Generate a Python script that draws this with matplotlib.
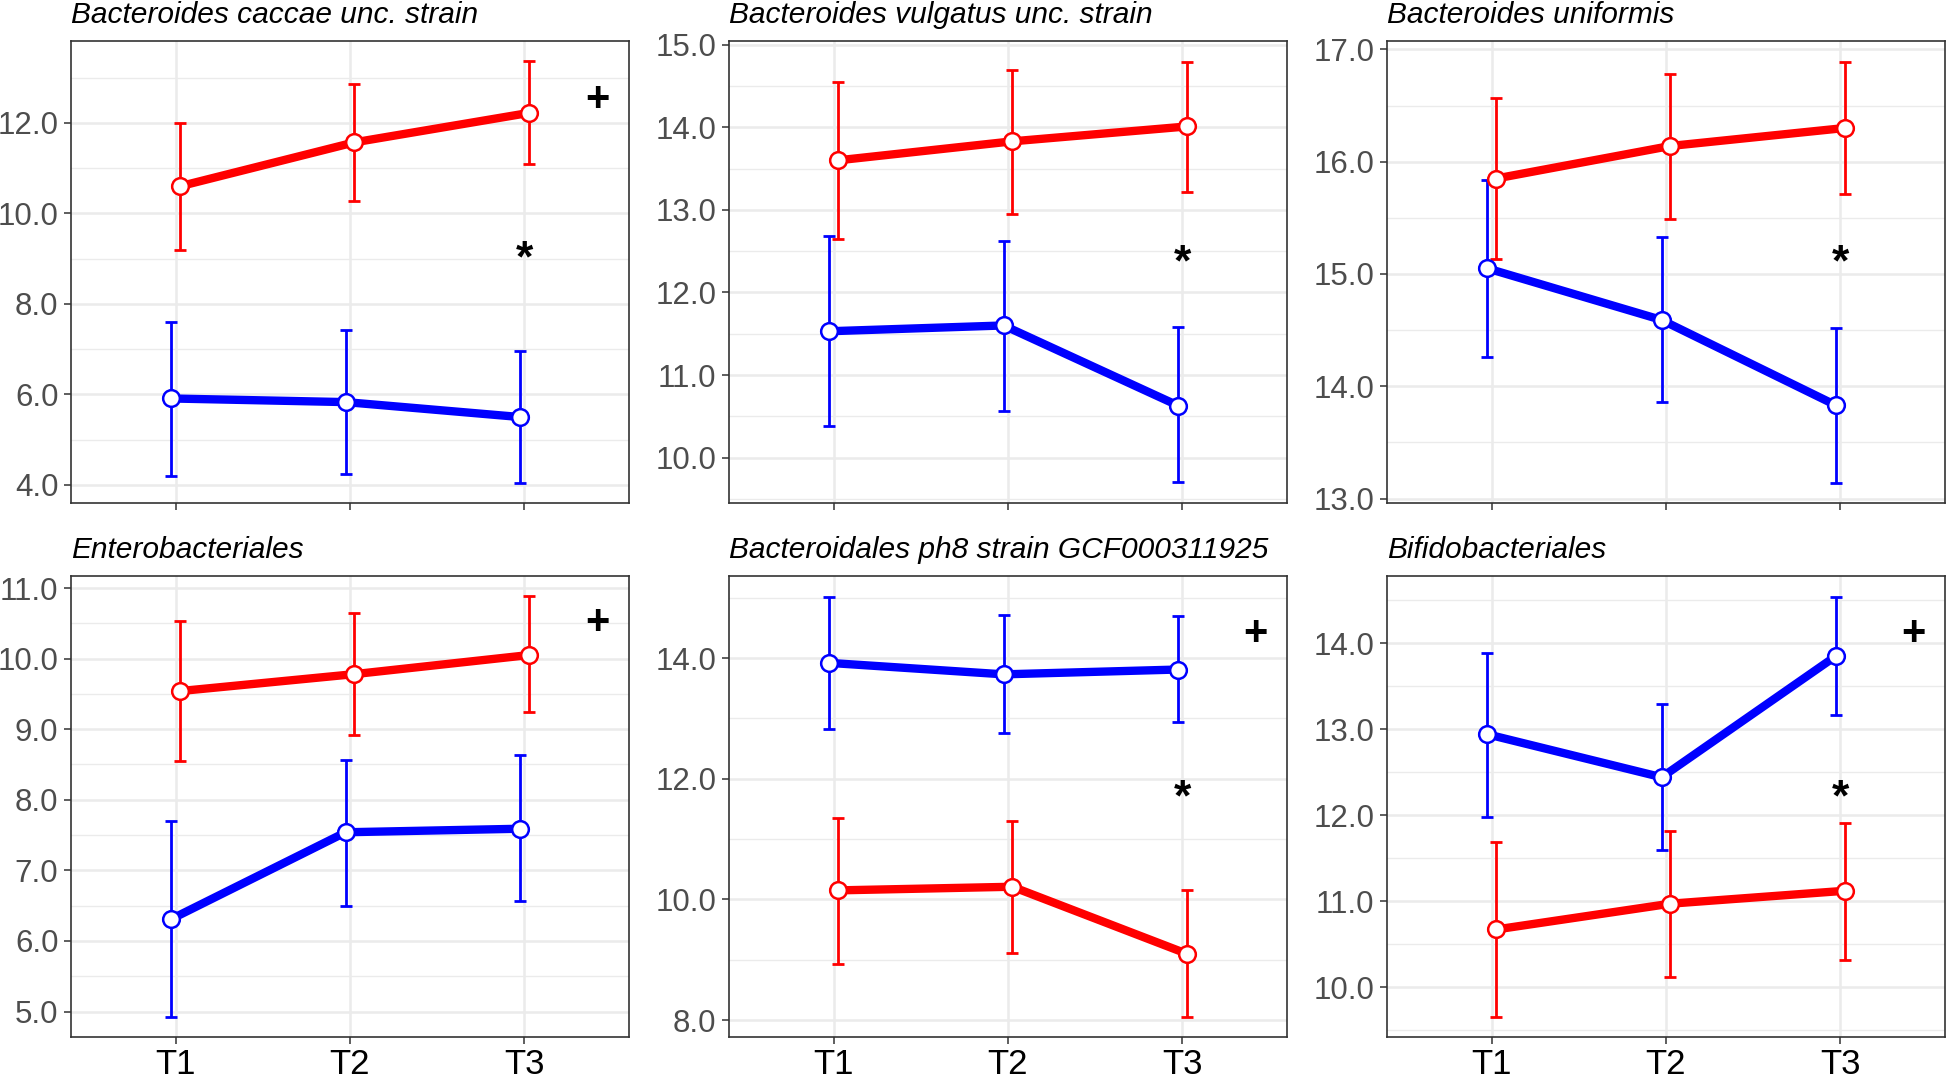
import matplotlib
matplotlib.use("Agg")
import matplotlib.pyplot as plt
from matplotlib import font_manager
import numpy as np

titles = [
    "Bacteroides caccae unc. strain",
    "Bacteroides vulgatus unc. strain",
    "Bacteroides uniformis",
    "Enterobacteriales",
    "Bacteroidales ph8 strain GCF000311925",
    "Bifidobacteriales",
]
timepoints = ["T1", "T2", "T3"]

red_mean = [
    [10.60, 11.57, 12.22],
    [13.60, 13.83, 14.01],
    [15.85, 16.14, 16.30],
    [9.54, 9.78, 10.05],
    [10.15, 10.21, 9.10],
    [10.67, 10.97, 11.12],
]
red_lo = [
    [9.19, 10.27, 11.10],
    [12.65, 12.95, 13.22],
    [15.13, 15.49, 15.71],
    [8.55, 8.92, 9.24],
    [8.93, 9.12, 8.05],
    [9.65, 10.12, 10.32],
]
red_hi = [
    [12.00, 12.87, 13.36],
    [14.55, 14.69, 14.79],
    [16.57, 16.78, 16.89],
    [10.53, 10.64, 10.88],
    [11.35, 11.30, 10.15],
    [11.69, 11.81, 11.91],
]
blue_mean = [
    [5.91, 5.83, 5.50],
    [11.53, 11.60, 10.63],
    [15.05, 14.59, 13.83],
    [6.31, 7.54, 7.59],
    [13.92, 13.73, 13.81],
    [12.94, 12.44, 13.85],
]
blue_lo = [
    [4.20, 4.23, 4.05],
    [10.38, 10.56, 9.70],
    [14.26, 13.86, 13.14],
    [4.93, 6.50, 6.57],
    [12.83, 12.75, 12.94],
    [11.98, 11.59, 13.16],
]
blue_hi = [
    [7.61, 7.43, 6.95],
    [12.68, 12.62, 11.58],
    [15.84, 15.33, 14.52],
    [7.70, 8.56, 8.63],
    [15.02, 14.71, 14.70],
    [13.89, 13.29, 14.54],
]
# significance marks (None = not shown)
star_y = [9.26, 12.51, 15.21, None, 11.89, 12.35]
plus_y = [12.58, None, None, 10.55, 14.45, 14.14]

ylims = [(3.60, 13.81), (9.45, 15.045), (12.96, 17.075),
         (4.64, 11.17), (7.72, 15.36), (9.42, 14.78)]
major_ticks = [np.arange(4, 13, 2), np.arange(10, 16, 1), np.arange(13, 18, 1),
               np.arange(5, 12, 1), np.arange(8, 15, 2), np.arange(10, 15, 1)]
minor_ticks = [np.arange(5, 14, 2), np.arange(9.5, 15, 1), np.arange(13.5, 17, 1),
               np.arange(5.5, 11, 1), np.arange(9, 16, 2), np.arange(9.5, 15, 1)]

names = {f.name for f in font_manager.fontManager.ttflist}
base = "Liberation Sans" if "Liberation Sans" in names else "DejaVu Sans"
narrow = "Liberation Sans Narrow" if "Liberation Sans Narrow" in names else base
plt.rcParams["font.family"] = [base, "DejaVu Sans"]

fig = plt.figure(figsize=(19.46, 10.81), dpi=100)

W, H = 1946, 1081
lefts = [71, 729, 1387]
tops = [41, 576]
bottoms = [503, 1037]
aw = 558

RED = "#FF0000"
BLUE = "#0000FF"
GRID = "#EBEBEB"
dodge = 0.025
x = np.arange(1, 4)

for i in range(6):
    r, c = divmod(i, 3)
    ax = fig.add_axes([lefts[c] / W, 1 - bottoms[r] / H,
                       aw / W, (bottoms[r] - tops[r]) / H])
    ax.set_xlim(0.4, 3.6)
    ax.set_ylim(*ylims[i])
    ax.set_xticks(x)
    ax.set_yticks(major_ticks[i])
    ax.set_yticks(minor_ticks[i], minor=True)
    ax.yaxis.set_major_formatter(matplotlib.ticker.FormatStrFormatter("%.1f"))
    ax.grid(True, which="major", color=GRID, lw=1.8, zorder=0)
    ax.grid(True, which="minor", axis="y", color=GRID, lw=1.0, zorder=0)
    ax.set_axisbelow(True)
    for s in ax.spines.values():
        s.set_color("#333333")
        s.set_linewidth(1.2)
    ax.tick_params(axis="both", which="major", length=5, width=1.1,
                   color="#333333", pad=4)
    ax.tick_params(axis="y", which="minor", length=0)
    ax.tick_params(axis="y", labelsize=22.5, labelcolor="#4D4D4D")
    if r == 1:
        ax.set_xticklabels(timepoints)
        for lab in ax.get_xticklabels():
            lab.set_family([narrow, base])
            lab.set_fontsize(25)
            lab.set_color("black")
        ax.tick_params(axis="x", pad=3)
    else:
        ax.set_xticklabels([])

    for mean, lo, hi, col, off in [
        (blue_mean[i], blue_lo[i], blue_hi[i], BLUE, -dodge),
        (red_mean[i], red_lo[i], red_hi[i], RED, dodge),
    ]:
        mean = np.array(mean)
        err = [mean - np.array(lo), np.array(hi) - mean]
        xs = x + off
        ax.plot(xs, mean, color=col, lw=6, zorder=3, solid_capstyle="butt")
        ax.errorbar(xs, mean, yerr=err, fmt="none", ecolor=col,
                    elinewidth=2, capsize=4, capthick=2, zorder=4)
        ax.plot(xs, mean, "o", ms=12, mfc="white", mec=col, mew=1.8, zorder=5)

    if star_y[i] is not None:
        ax.annotate("*", (3, star_y[i]), xytext=(0, -18), textcoords="offset points",
                    ha="center", va="baseline", fontsize=32, fontweight="bold",
                    color="black", zorder=6)
    if plus_y[i] is not None:
        ax.annotate("+", (3.42, plus_y[i]), xytext=(0, -10), textcoords="offset points",
                    ha="center", va="baseline", fontsize=30, fontweight="bold",
                    color="black", zorder=6)

    ax.set_title(titles[i], loc="left", fontstyle="italic", fontsize=21.5,
                 pad=13, color="black")

fig.savefig("out.png", dpi=100)
